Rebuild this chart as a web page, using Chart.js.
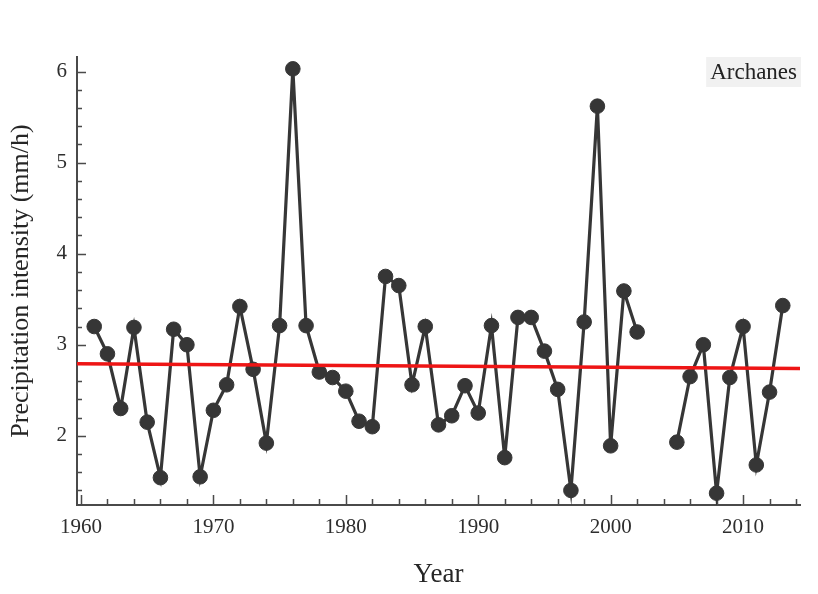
<!DOCTYPE html>
<html>
<head>
<meta charset="utf-8">
<script src="https://cdn.jsdelivr.net/npm/chart.js@4.4.1/dist/chart.umd.min.js"></script>
<style>
  html, body { margin: 0; padding: 0; background: #ffffff; }
  #wrap { width: 818px; height: 594px; }
</style>
</head>
<body>
<div id="wrap"><canvas id="c" width="818" height="594"></canvas></div>
<script>
// ---- data ----
const years = [1961,1962,1963,1964,1965,1966,1967,1968,1969,1970,
               1971,1972,1973,1974,1975,1976,1977,1978,1979,1980,
               1981,1982,1983,1984,1985,1986,1987,1988,1989,1990,
               1991,1992,1993,1994,1995,1996,1997,1998,1999,2000,
               2001,2002,2003,2004,2005,2006,2007,2008,2009,2010,
               2011,2012,2013];
const intensity = [3.20,2.90,2.30,3.19,2.15,1.54,3.17,3.00,1.55,2.28,
                   2.56,3.42,2.73,1.92,3.21,6.03,3.21,2.70,2.64,2.49,
                   2.16,2.10,3.75,3.65,2.56,3.20,2.12,2.22,2.55,2.25,
                   3.21,1.76,3.30,3.30,2.93,2.51,1.40,3.25,5.62,1.89,
                   3.59,3.14,null,null,1.93,2.65,3.00,1.37,2.64,3.20,
                   1.68,2.48,3.43];
const trendYears = [1959.7, 2014.3];
const trendValues = [2.79, 2.74];
const xTickLabels = [1960, 1970, 1980, 1990, 2000, 2010];
const yTickLabels = [2, 3, 4, 5, 6];
const seriesName = "Archanes";
const xTitle = "Year";
const yTitle = "Precipitation intensity (mm/h)";

const xMin = 1959.7, xMax = 2014.3, yMin = 1.24, yMax = 6.16;

const serif = "'Liberation Serif', 'DejaVu Serif', serif";
const textColor = '#2e2e2e';
const axisColor = '#4a4a4a';

// inward ticks drawn through the library's scales
const innerTicks = {
  id: 'innerTicks',
  beforeDatasetsDraw(chart) {
    const ctx = chart.ctx;
    const xs = chart.scales.x, ys = chart.scales.y;
    const area = chart.chartArea;
    ctx.save();
    ctx.strokeStyle = axisColor;
    ctx.lineWidth = 1.5;
    ctx.beginPath();
    for (let yr = 1960; yr <= 2014; yr += 2) {
      const px = Math.round(xs.getPixelForValue(yr)) + 0.5;
      const len = (yr % 10 === 0) ? 10 : 6;
      ctx.moveTo(px, area.bottom);
      ctx.lineTo(px, area.bottom - len);
    }
    for (let k = 7; k <= 30; k++) {
      const v = k / 5;
      const py = Math.round(ys.getPixelForValue(v)) + 0.5;
      const len = (k % 5 === 0) ? 9 : 5;
      ctx.moveTo(area.left, py);
      ctx.lineTo(area.left + len, py);
    }
    ctx.stroke();
    ctx.restore();
  }
};

// series label box in top-right corner
const seriesBox = {
  id: 'seriesBox',
  afterDraw(chart) {
    const ctx = chart.ctx;
    const area = chart.chartArea;
    ctx.save();
    ctx.font = "23px " + serif;
    const w = ctx.measureText(seriesName).width + 8;
    const h = 30;
    const x0 = area.right + 1 - w;
    const y0 = area.top;
    ctx.fillStyle = '#f1f1f1';
    ctx.fillRect(x0, y0, w, h);
    ctx.fillStyle = '#222222';
    ctx.textAlign = 'center';
    ctx.textBaseline = 'middle';
    ctx.fillText(seriesName, x0 + w / 2, y0 + h / 2 + 1);
    ctx.restore();
  }
};

const seriesPoints = years.map((yr, i) => ({ x: yr, y: intensity[i] }));
const trendPoints = trendYears.map((yr, i) => ({ x: yr, y: trendValues[i] }));

new Chart(document.getElementById('c'), {
  type: 'line',
  data: {
    datasets: [
      {
        label: 'Trend',
        data: trendPoints,
        borderColor: '#ee1515',
        borderWidth: 3.5,
        pointRadius: 0,
        fill: false,
        order: 0,
        clip: false
      },
      {
        label: seriesName,
        data: seriesPoints,
        borderColor: '#363636',
        borderWidth: 3.2,
        pointRadius: 7.3,
        pointBackgroundColor: '#363636',
        pointBorderColor: '#363636',
        pointBorderWidth: 1,
        spanGaps: false,
        fill: false,
        tension: 0,
        order: 1
      }
    ]
  },
  options: {
    responsive: false,
    devicePixelRatio: 1,
    animation: false,
    layout: { padding: { top: 57, right: 18, left: 0, bottom: 0 } },
    plugins: {
      legend: { display: false },
      tooltip: { enabled: false }
    },
    scales: {
      x: {
        type: 'linear',
        min: xMin, max: xMax,
        afterFit(s) { s.height = 89; },
        afterBuildTicks(s) { s.ticks = xTickLabels.map(v => ({ value: v })); },
        grid: { display: true, drawOnChartArea: false, drawTicks: false },
        border: { display: true, color: axisColor, width: 2 },
        ticks: {
          includeBounds: false,
          padding: 10,
          color: textColor,
          font: { family: serif, size: 21 },
          callback: v => String(v),
          maxRotation: 0
        },
        title: {
          display: true,
          text: xTitle,
          color: '#262626',
          font: { family: serif, size: 27 },
          padding: { top: 0, bottom: 3 }
        }
      },
      y: {
        type: 'linear',
        min: yMin, max: yMax,
        afterFit(s) { s.width = 77; },
        afterBuildTicks(s) { s.ticks = yTickLabels.map(v => ({ value: v })); },
        grid: { display: true, drawOnChartArea: false, drawTicks: false },
        border: { display: true, color: axisColor, width: 2 },
        ticks: {
          includeBounds: false,
          padding: 10,
          color: textColor,
          font: { family: serif, size: 21 },
          callback: v => String(v)
        },
        title: {
          display: true,
          text: yTitle,
          color: '#262626',
          font: { family: serif, size: 26 },
          padding: { top: 6, bottom: 0 }
        }
      }
    }
  },
  plugins: [innerTicks, seriesBox]
});
</script>
</body>
</html>
